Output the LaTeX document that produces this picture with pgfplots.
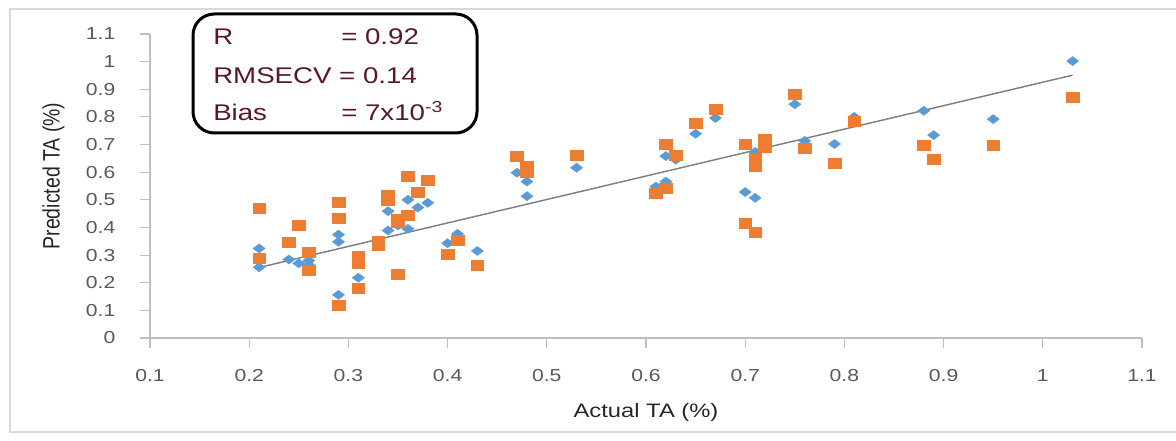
\documentclass[border=0pt]{standalone}
\usepackage{pgfplots}
\pgfplotsset{compat=1.18}
\usepackage{fontspec}
\setmainfont{Liberation Sans}
\usepackage{graphicx}
\definecolor{cblue}{HTML}{5B9BD5}
\definecolor{corange}{HTML}{ED7D31}
\definecolor{tickgray}{HTML}{595959}
\definecolor{linegray}{HTML}{BFBFBF}
\definecolor{framegray}{HTML}{D9D9D9}
\definecolor{boxtext}{RGB}{88,24,44}
\newcommand{\sx}[1]{\scalebox{1.22}[1]{#1}}
\begin{document}
\begin{tikzpicture}
\path[use as bounding box] (0,0) rectangle (882pt,330.75pt);
\draw[framegray, line width=1.5pt] ({10*0.75pt},{(441-9)*0.75pt}) rectangle ({1190*0.75pt},{(441-432)*0.75pt});
\begin{axis}[
  at={(112.5pt,77.25pt)}, anchor=south west,
  scale only axis, width=744pt, height=228pt,
  xmin=0.1, xmax=1.1, ymin=0, ymax=1.1,
  axis x line*=bottom, axis y line*=left,
  axis line style={linegray, line width=0.8pt},
  tick style={linegray, line width=0.8pt},
  tick align=outside, major tick length=7.5pt,
  xtick={0.1,0.2,0.3,0.4,0.5,0.6,0.7,0.8,0.9,1,1.1},
  ytick={0,0.1,0.2,0.3,0.4,0.5,0.6,0.7,0.8,0.9,1,1.1},
  xticklabel={\sx{\pgfmathprintnumber[assume math mode=true]{\tick}}},
  yticklabel={\sx{\pgfmathprintnumber[assume math mode=true]{\tick}}},
  tick label style={font=\fontsize{13}{15}\selectfont, text=tickgray},
  xticklabel style={yshift=-12.5pt},
  yticklabel style={xshift=-15pt},
  xlabel={\sx{Actual TA (\%)}},
  ylabel={\scalebox{1}[1.22]{Predicted TA (\%)}},
  label style={font=\fontsize{14.6}{16}\selectfont, text=black!85},
  xlabel style={at={(axis description cs:0.5,0)}, anchor=center, yshift=-55.9pt},
  ylabel style={at={(axis description cs:0,0.5)}, anchor=center, yshift=72.4pt, xshift=7.5pt},
  clip=false,
]
\addplot[only marks, mark=diamond*, mark size=4.5pt, mark options={rotate=90, fill=cblue, draw=cblue}] coordinates {
(0.21,0.324) (0.21,0.256) (0.24,0.284) (0.25,0.27) (0.26,0.28) (0.26,0.265)
(0.29,0.374) (0.29,0.348) (0.29,0.156) (0.31,0.218) (0.33,0.335) (0.34,0.459)
(0.34,0.389) (0.35,0.407) (0.35,0.23) (0.36,0.50) (0.36,0.395) (0.37,0.472)
(0.38,0.489) (0.40,0.343) (0.41,0.377) (0.43,0.315) (0.47,0.598) (0.48,0.566)
(0.48,0.513) (0.53,0.616) (0.61,0.548) (0.62,0.566) (0.62,0.658) (0.63,0.645)
(0.65,0.739) (0.67,0.796) (0.70,0.528) (0.71,0.507) (0.71,0.673) (0.72,0.70)
(0.75,0.846) (0.76,0.713) (0.79,0.702) (0.81,0.80) (0.88,0.822) (0.89,0.734)
(0.95,0.792) (1.03,1.002)
};
\addplot[only marks, mark=square*, mark size=3.75pt, mark options={xscale=1.27, fill=corange, draw=corange}] coordinates {
(0.21,0.47) (0.21,0.289) (0.24,0.345) (0.25,0.407) (0.26,0.309) (0.26,0.246)
(0.29,0.49) (0.29,0.435) (0.29,0.117) (0.31,0.297) (0.31,0.272) (0.31,0.181)
(0.33,0.35) (0.33,0.337) (0.34,0.515) (0.34,0.497) (0.35,0.43) (0.35,0.42)
(0.35,0.231) (0.36,0.587) (0.36,0.443) (0.37,0.528) (0.38,0.572) (0.40,0.303)
(0.41,0.355) (0.43,0.264) (0.47,0.658) (0.48,0.62) (0.48,0.60) (0.53,0.66)
(0.61,0.524) (0.62,0.54) (0.62,0.70) (0.63,0.66) (0.65,0.778) (0.67,0.826)
(0.70,0.70) (0.70,0.415) (0.71,0.65) (0.71,0.62) (0.71,0.381) (0.72,0.72)
(0.72,0.69) (0.75,0.883) (0.76,0.687) (0.79,0.633) (0.81,0.786) (0.88,0.698)
(0.89,0.647) (0.95,0.698) (1.03,0.872)
};
\addplot[color=black!50, line width=1.1pt] coordinates {(0.21,0.255) (1.03,0.951)};
\end{axis}
\draw[black, line width=2.25pt, rounded corners=16pt, fill=white] ({193*0.75pt},{(441-14)*0.75pt}) rectangle ({477*0.75pt},{(441-133)*0.75pt});
\begin{scope}[every node/.style={inner sep=0pt, text=boxtext, font=\fontsize{17}{19}\selectfont}]
\node[anchor=base west] at ({213*0.75pt},{(441-45)*0.75pt}) {\sx{R}};
\node[anchor=base west] at ({341*0.75pt},{(441-45)*0.75pt}) {\sx{= 0.92}};
\node[anchor=base west] at ({213*0.75pt},{(441-84)*0.75pt}) {\sx{RMSECV = 0.14}};
\node[anchor=base west] at ({213*0.75pt},{(441-120.5)*0.75pt}) {\sx{Bias}};
\node[anchor=base west] at ({341*0.75pt},{(441-120.5)*0.75pt}) {\sx{= 7x10\textsuperscript{-3}}};
\end{scope}
\end{tikzpicture}
\end{document}
